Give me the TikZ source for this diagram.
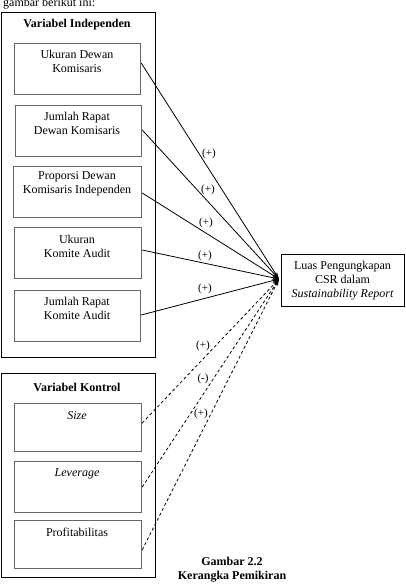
\documentclass[tikz,border=0pt]{standalone}
\usepackage{fontspec}
\setmainfont{Liberation Serif}
\usetikzlibrary{arrows.meta}
\begin{document}
\begin{tikzpicture}[x=1pt,y=-1pt,
  txt/.style={font=\fontsize{12}{14}\selectfont, inner sep=0pt},
  outerbox/.style={draw=black, line width=0.8pt},
  varbox/.style={draw=black!60, line width=1.2pt},
  sol/.style={line width=0.8pt, -{Stealth[length=7pt,width=4pt]}},
  dsh/.style={line width=0.8pt, dash pattern=on 3pt off 2.5pt, -{Stealth[length=7pt,width=4pt]}},
  sign/.style={font=\fontsize{11}{13}\selectfont, inner sep=0pt}]
\useasboundingbox (0,0) rectangle (405,586);
\node[txt, anchor=base west] (hdr) at (3,7) {gambar berikut ini:};
% outer boxes
\draw[outerbox] (1,12) rectangle (155,357);
\node[txt, font=\fontsize{12}{14}\selectfont\bfseries] (ti) at (77,25) {Variabel Independen};
\draw[outerbox] (1,373) rectangle (155,577);
\node[txt, font=\fontsize{12}{14}\selectfont\bfseries] (tk) at (77,387) {Variabel Kontrol};
% independent boxes
\node[varbox, minimum width=126pt, minimum height=51pt, anchor=north west] (b1) at (14,43) {};
\node[txt, align=center] (t1) at (77,61) {Ukuran Dewan\\Komisaris};
\node[varbox, minimum width=126pt, minimum height=51pt, anchor=north west] (b2) at (15,105) {};
\node[txt, align=center] (t2) at (77,123) {Jumlah Rapat\\Dewan Komisaris};
\node[varbox, minimum width=128pt, minimum height=51pt, anchor=north west] (b3) at (13,166) {};
\node[txt, align=center] (t3) at (77,184) {Proporsi Dewan\\Komisaris Independen};
\node[varbox, minimum width=127pt, minimum height=51pt, anchor=north west] (b4) at (14,227) {};
\node[txt, align=center] (t4) at (77,246) {Ukuran\\Komite Audit};
\node[varbox, minimum width=126pt, minimum height=51pt, anchor=north west] (b5) at (14,290) {};
\node[txt, align=center] (t5) at (77,308) {Jumlah Rapat\\Komite Audit};
% control boxes
\node[varbox, minimum width=127pt, minimum height=48pt, anchor=north west] (c1) at (14,403) {};
\node[txt] (s1) at (77,416) {\itshape Size};
\node[varbox, minimum width=127pt, minimum height=51pt, anchor=north west] (c2) at (14,461) {};
\node[txt] (s2) at (77,474) {\itshape Leverage};
\node[varbox, minimum width=127pt, minimum height=48pt, anchor=north west] (c3) at (14,520) {};
\node[txt] (s3) at (77,532) {Profitabilitas};
% target
\node[draw=black, line width=0.8pt, minimum width=123pt, minimum height=52pt, anchor=north west] (tg) at (281,254) {};
\node[txt, align=center] (tt) at (342.5,281) {Luas Pengungkapan\\CSR dalam\\\itshape Sustainability Report};
\coordinate (hub) at (279,279);
% connectors
\draw[sol] (b1.east |- 0,63) -- (hub);
\draw[sol] (b2.east |- 0,130) -- (hub);
\draw[sol] (b3.east |- 0,193) -- (hub);
\draw[sol] (b4.east |- 0,250) -- (hub);
\draw[sol] (b5.east |- 0,315) -- (hub);
\draw[dsh] (c1.east |- 0,423) -- (hub);
\draw[dsh] (c2.east |- 0,487) -- (hub);
\draw[dsh] (c3.east |- 0,550) -- (hub);
% signs
\node[sign] (p1) at (209,154) {(+)};
\node[sign] (p2) at (208,190) {(+)};
\node[sign] (p3) at (206,223) {(+)};
\node[sign] (p4) at (205,256) {(+)};
\node[sign] (p5) at (205,289) {(+)};
\node[sign] (q1) at (203,346) {(+)};
\node[sign] (q2) at (203,379) {(-)};
\node[sign] (q3) at (201,414) {(+)};
% caption
\node[txt, align=center, font=\fontsize{12}{14}\selectfont\bfseries] (cap) at (232,570) {Gambar 2.2\\Kerangka Pemikiran};
\end{tikzpicture}
\end{document}
